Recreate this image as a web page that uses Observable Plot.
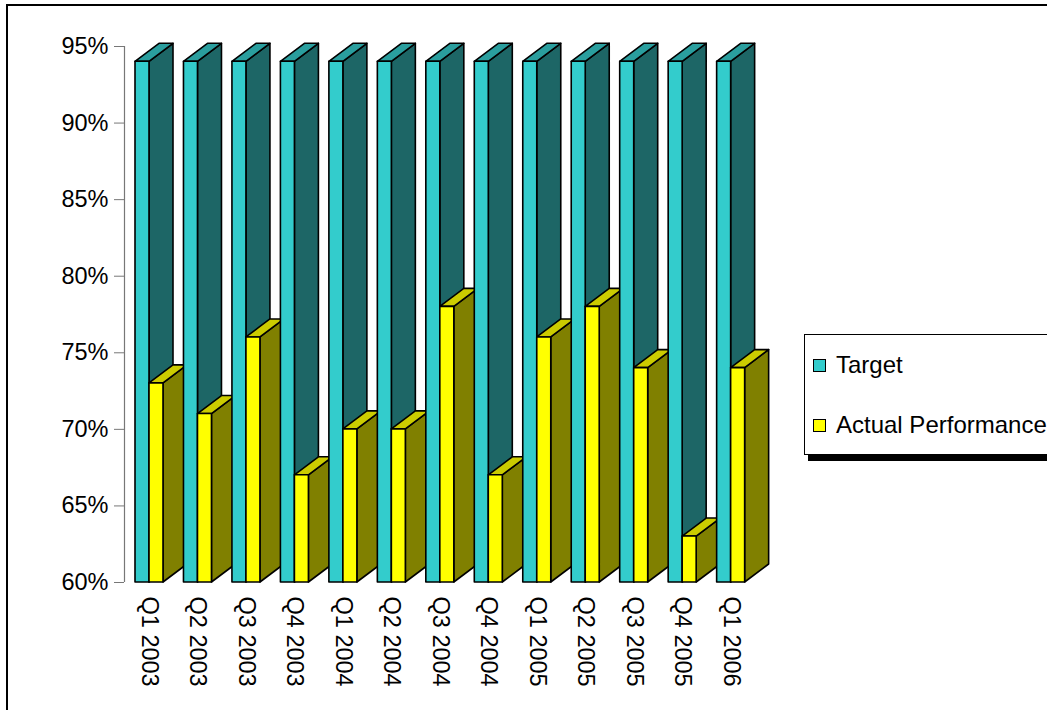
<!DOCTYPE html>
<html>
<head>
<meta charset="utf-8">
<script src="https://cdn.jsdelivr.net/npm/d3@7"></script>
<script src="https://cdn.jsdelivr.net/npm/@observablehq/plot@0.6"></script>
<style>
  html, body { margin: 0; padding: 0; background: #fff; }
  body { width: 1047px; height: 710px; position: relative; overflow: hidden;
         font-family: "Liberation Sans", Arial, sans-serif; }
  #frame { position: absolute; left: 6px; top: 4px; width: 1100px; height: 800px;
           border-left: 2px solid #000; border-top: 2px solid #000; box-sizing: border-box; }
  #chart { position: absolute; left: 0; top: 0; }
  #legend { position: absolute; left: 804px; top: 334px; width: 300px; height: 121px;
            border: 1px solid #000; background: #fff; box-shadow: 4px 6px 0 #000; box-sizing: border-box; }
  .item { position: absolute; left: 8px; height: 26px; font-size: 24px; line-height: 26px; color: #000; white-space: nowrap; }
  .sw { position: absolute; left: 0; top: 7px; width: 11px; height: 11px; border: 1px solid #000; }
  .lbl { position: absolute; left: 23px; top: 0; }
</style>
</head>
<body>
<div id="frame"></div>
<div id="chart"></div>
<div id="legend"></div>
<script>
// ---- data ----
const quarters = ["Q1 2003","Q2 2003","Q3 2003","Q4 2003","Q1 2004","Q2 2004","Q3 2004",
                  "Q4 2004","Q1 2005","Q2 2005","Q3 2005","Q4 2005","Q1 2006"];
const target = [94,94,94,94,94,94,94,94,94,94,94,94,94];
const actual = [73,71,76,67,70,70,78,67,76,78,74,63,74];
const seriesNames = ["Target","Actual Performance"];
const yTicks = [60,65,70,75,80,85,90,95];

// ---- styles ----
const frontColors = ["#33CCCC","#FFFF00"];
const topColors   = ["#2A9E9E","#CCCC00"];
const sideColors  = ["#1D6666","#808000"];

// ---- layout (pixel geometry of the 3D look) ----
const mLeft = 124, mTop = 46, mBottom = 128, W_ = 1047, H_ = 710;
const step = 48.47;                       // px per category
const xRange1 = mLeft + quarters.length * step;
const mRight = W_ - xRange1;
const yMin = 60, yMax = 95;
const yPx = (H_ - mBottom - mTop) / (yMax - yMin);
const DX = 24 / step, DY = 18 / yPx;      // depth offset in data units
const OFF = 11 / step, BW = 14 / step;     // bar offset & width in data units

const faces = [];
quarters.forEach((q, i) => {
  [target[i], actual[i]].forEach((v, s) => {
    const xl = i + OFF + s * BW, xr = xl + BW;
    const id = i + "-" + s;
    // side face
    faces.push({id: id + "s", fill: sideColors[s], x: xr,      y1: yMin,      y2: v});
    faces.push({id: id + "s", fill: sideColors[s], x: xr + DX, y1: yMin + DY, y2: v + DY});
    // top face (parallelogram with horizontal edges)
    faces.push({id: id + "t", fill: topColors[s], x: xl,      y1: v, y2: v});
    faces.push({id: id + "t", fill: topColors[s], x: xr,      y1: v, y2: v + DY * BW / DX});
    faces.push({id: id + "t", fill: topColors[s], x: xl + DX, y1: v + DY * (DX - BW) / DX, y2: v + DY});
    faces.push({id: id + "t", fill: topColors[s], x: xr + DX, y1: v + DY, y2: v + DY});
    // front face
    faces.push({id: id + "f", fill: frontColors[s], x: xl, y1: yMin, y2: v});
    faces.push({id: id + "f", fill: frontColors[s], x: xr, y1: yMin, y2: v});
  });
});

const labelPos = quarters.map((q, i) => i + OFF + BW);

const chart = Plot.plot({
  width: W_, height: H_,
  marginLeft: mLeft, marginTop: mTop, marginBottom: mBottom, marginRight: mRight,
  style: {fontFamily: "'Liberation Sans', Arial, sans-serif", fontSize: "23px", background: "transparent", overflow: "visible"},
  x: {domain: [0, quarters.length], axis: null},
  y: {domain: [yMin, yMax], axis: null},
  color: {type: "identity"},
  marks: [
    Plot.areaY(faces, {x: "x", y1: "y1", y2: "y2", z: "id", fill: "fill",
                       stroke: "#000", strokeWidth: 1.6, strokeLinejoin: "round", curve: "linear"}),
    Plot.ruleX([0], {y1: yMin, y2: yMax, stroke: "#777", strokeWidth: 1.2}),
    Plot.axisY(yTicks, {tickFormat: d => d + "%", tickSize: 10, tickPadding: 6,
                        stroke: "#777", fontSize: 23.5, label: null}),
    Plot.axisX(labelPos, {tickFormat: d => quarters[Math.round(d - OFF - BW)], tickRotate: 90,
                          tickSize: 0, tickPadding: 14, fontSize: 23.5, label: null})
  ]
});
document.getElementById("chart").appendChild(chart);

// ---- legend ----
const legend = document.getElementById("legend");
seriesNames.forEach((name, s) => {
  const item = document.createElement("div");
  item.className = "item";
  item.style.top = (s === 0 ? 17 : 77) + "px";
  item.innerHTML = `<span class="sw" style="background:${frontColors[s]}"></span><span class="lbl">${name}</span>`;
  legend.appendChild(item);
});
</script>
</body>
</html>
